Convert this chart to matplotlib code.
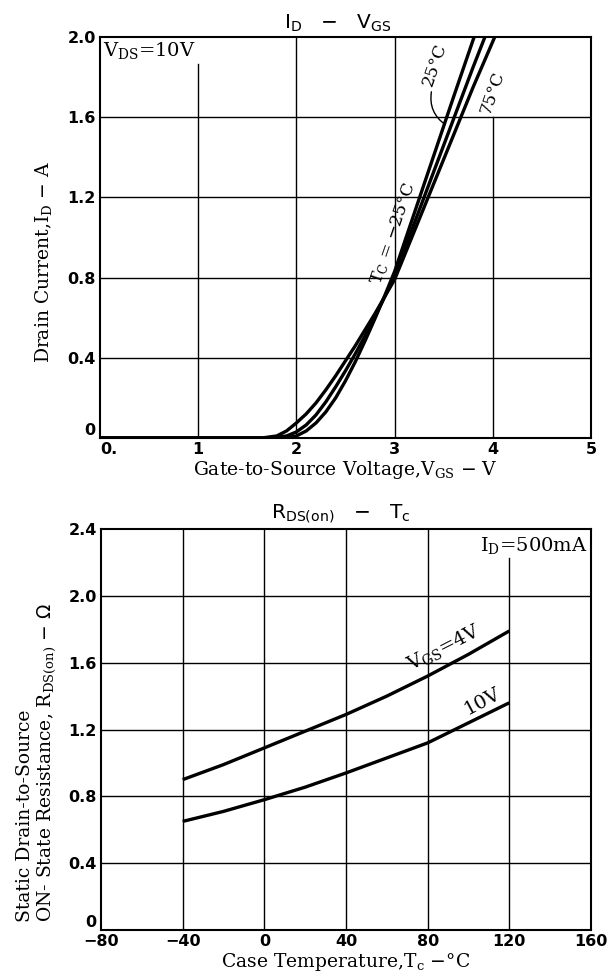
import matplotlib
matplotlib.use("Agg")
import matplotlib.pyplot as plt

# ---- I_D - V_GS data ----
vgs_m25 = [0.0, 1.85, 1.95, 2.0, 2.1, 2.2, 2.3, 2.4, 2.5, 2.6, 2.7, 2.8, 2.9, 3.0, 3.2, 3.4, 3.6, 3.81]
id_m25 = [0.0, 0.0, 0.005, 0.01, 0.035, 0.075, 0.13, 0.20, 0.285, 0.38, 0.485, 0.595, 0.71, 0.83, 1.12, 1.41, 1.70, 2.0]

vgs_25 = [0.0, 1.75, 1.9, 2.0, 2.1, 2.2, 2.3, 2.4, 2.5, 2.6, 2.7, 2.8, 2.9, 3.0, 3.2, 3.4, 3.6, 3.8, 3.92]
id_25 = [0.0, 0.0, 0.01, 0.03, 0.065, 0.115, 0.18, 0.255, 0.335, 0.42, 0.51, 0.605, 0.705, 0.81, 1.07, 1.33, 1.59, 1.85, 2.0]

vgs_75 = [0.0, 1.65, 1.8, 1.9, 2.0, 2.1, 2.2, 2.3, 2.4, 2.5, 2.6, 2.7, 2.8, 2.9, 3.0, 3.2, 3.4, 3.6, 3.8, 4.02]
id_75 = [0.0, 0.0, 0.01, 0.035, 0.075, 0.12, 0.175, 0.24, 0.31, 0.385, 0.46, 0.54, 0.62, 0.705, 0.79, 1.03, 1.27, 1.51, 1.75, 2.0]

# ---- R_DS(on) - Tc data ----
tc = [-40, -20, 0, 20, 40, 60, 80, 100, 120]
rds_4v = [0.90, 0.99, 1.09, 1.19, 1.29, 1.40, 1.52, 1.65, 1.79]
rds_10v = [0.65, 0.71, 0.78, 0.855, 0.94, 1.03, 1.12, 1.24, 1.36]

top_xticks = [0, 1, 2, 3, 4, 5]
top_xticklabels = ["0.", "1", "2", "3", "4", "5"]
top_yticks = [0, 0.4, 0.8, 1.2, 1.6, 2.0]
top_yticklabels = ["0", "0.4", "0.8", "1.2", "1.6", "2.0"]
bot_xticks = [-80, -40, 0, 40, 80, 120, 160]
bot_xticklabels = ["\u221280", "\u221240", "0", "40", "80", "120", "160"]
bot_yticks = [0, 0.4, 0.8, 1.2, 1.6, 2.0, 2.4]
bot_yticklabels = ["0", "0.4", "0.8", "1.2", "1.6", "2.0", "2.4"]

SERIF = "DejaVu Serif"
SANS = "DejaVu Sans"
LW = 2.4
GRID_LW = 1.0
LABEL_FS = 13.5

fig = plt.figure(figsize=(6.13, 9.8), dpi=100)


def style_axes(ax, xticks, xlabels, yticks, ylabels, zero_x_left=False):
    ax.set_xticks(xticks)
    ax.set_xticklabels(xlabels, fontfamily=SANS, fontweight="bold", fontsize=11.5)
    ax.set_yticks(yticks)
    ax.set_yticklabels(ylabels, fontfamily=SANS, fontweight="bold", fontsize=11.5)
    ax.tick_params(length=0, pad=3)
    # the "0" on the y axis sits a little above the corner
    ax.get_yticklabels()[0].set_verticalalignment("bottom")
    if zero_x_left:
        ax.get_xticklabels()[0].set_horizontalalignment("left")
    for sp in ax.spines.values():
        sp.set_linewidth(1.5)
        sp.set_color("black")


# ================= top panel: I_D - V_GS =================
ax1 = fig.add_axes([0.1631, 0.5531, 0.801, 0.4092])
ax1.set_xlim(0, 5)
ax1.set_ylim(0, 2.0)
style_axes(ax1, top_xticks, top_xticklabels, top_yticks, top_yticklabels, zero_x_left=True)

# grid lines, some broken where text/curves sit
grid_x_top = {1: 0.933, 2: 1.0, 3: 1.0, 4: 0.8}
for gx, ymax in grid_x_top.items():
    ax1.axvline(gx, ymin=0, ymax=ymax, color="black", lw=GRID_LW, zorder=1)
for gy in top_yticks[1:-1]:
    ax1.axhline(gy, color="black", lw=GRID_LW, zorder=1)

ax1.plot(vgs_m25, id_m25, color="black", lw=LW, solid_capstyle="butt", zorder=3)
ax1.plot(vgs_25, id_25, color="black", lw=LW, solid_capstyle="butt", zorder=3)
ax1.plot(vgs_75, id_75, color="black", lw=LW, solid_capstyle="butt", zorder=3)

ax1.text(0.03, 1.93, r"$\mathregular{V_{DS}}$=10V", fontfamily=SERIF, fontsize=14,
         ha="left", va="center")
ax1.text(2.99, 1.02, r"$\mathregular{T_C}$ = $-$25°C", fontfamily=SERIF, fontsize=12.5,
         rotation=71, ha="center", va="center", rotation_mode="anchor")
ax1.text(3.41, 1.86, "25°C", fontfamily=SERIF, fontsize=12.5, rotation=71,
         ha="center", va="center", rotation_mode="anchor")
ax1.annotate("", xy=(3.54, 1.555), xytext=(3.38, 1.74),
             arrowprops=dict(arrowstyle="-", color="black", lw=1.0,
                             connectionstyle="arc3,rad=0.35"))
ax1.text(4.0, 1.72, "75°C", fontfamily=SERIF, fontsize=12.5, rotation=71,
         ha="center", va="center", rotation_mode="anchor")

ax1.set_title(r"$\mathregular{I_D}$   $-$   $\mathregular{V_{GS}}$", fontfamily=SANS,
              fontsize=14.5, pad=6, x=0.485)
ax1.set_xlabel(r"Gate-to-Source Voltage,$\mathregular{V_{GS}}$ $-$ V", fontfamily=SERIF,
               fontsize=LABEL_FS, labelpad=1)
ax1.set_ylabel(r"Drain Current,$\mathregular{I_D}$ $-$ A", fontfamily=SERIF,
               fontsize=LABEL_FS)
ax1.yaxis.set_label_coords(-0.094, 0.44)

# ================= bottom panel: R_DS(on) - Tc =================
ax2 = fig.add_axes([0.1648, 0.0510, 0.7993, 0.4092])
ax2.set_xlim(-80, 160)
ax2.set_ylim(0, 2.4)
style_axes(ax2, bot_xticks, bot_xticklabels, bot_yticks, bot_yticklabels)

grid_x_bot = {-40: 1.0, 0: 1.0, 40: 1.0, 80: 1.0, 120: 0.928}
for gx, ymax in grid_x_bot.items():
    ax2.axvline(gx, ymin=0, ymax=ymax, color="black", lw=GRID_LW, zorder=1)
for gy in bot_yticks[1:-1]:
    ax2.axhline(gy, color="black", lw=GRID_LW, zorder=1)

ax2.plot(tc, rds_4v, color="black", lw=LW, solid_capstyle="butt", zorder=3)
ax2.plot(tc, rds_10v, color="black", lw=LW, solid_capstyle="butt", zorder=3)

ax2.text(88, 1.69, r"$\mathregular{V_{GS}}$=4V", fontfamily=SERIF, fontsize=14,
         rotation=27, ha="center", va="center", rotation_mode="anchor")
ax2.text(107, 1.37, "10V", fontfamily=SERIF, fontsize=14,
         rotation=28, ha="center", va="center", rotation_mode="anchor")
ax2.text(158.5, 2.30, r"$\mathregular{I_D}$=500mA", fontfamily=SERIF, fontsize=14,
         ha="right", va="center")

ax2.set_title(r"$\mathregular{R_{DS(on)}}$   $-$   $\mathregular{T_c}$", fontfamily=SANS,
              fontsize=14.5, pad=8, x=0.49)
ax2.set_xlabel(r"Case Temperature,$\mathregular{T_c}$ $-$°C", fontfamily=SERIF,
               fontsize=LABEL_FS, labelpad=1)

# two-line y label, both lines start near the bottom of the axes
ax2.text(-0.155, 0.02, "Static Drain-to-Source", transform=ax2.transAxes,
         fontfamily=SERIF, fontsize=LABEL_FS, rotation=90, ha="center", va="bottom")
ax2.text(-0.112, 0.02, r"ON- State Resistance, $\mathregular{R_{DS(on)}}$ $-$ $\Omega$",
         transform=ax2.transAxes, fontfamily=SERIF, fontsize=LABEL_FS, rotation=90,
         ha="center", va="bottom")

fig.savefig("out.png", dpi=100)
